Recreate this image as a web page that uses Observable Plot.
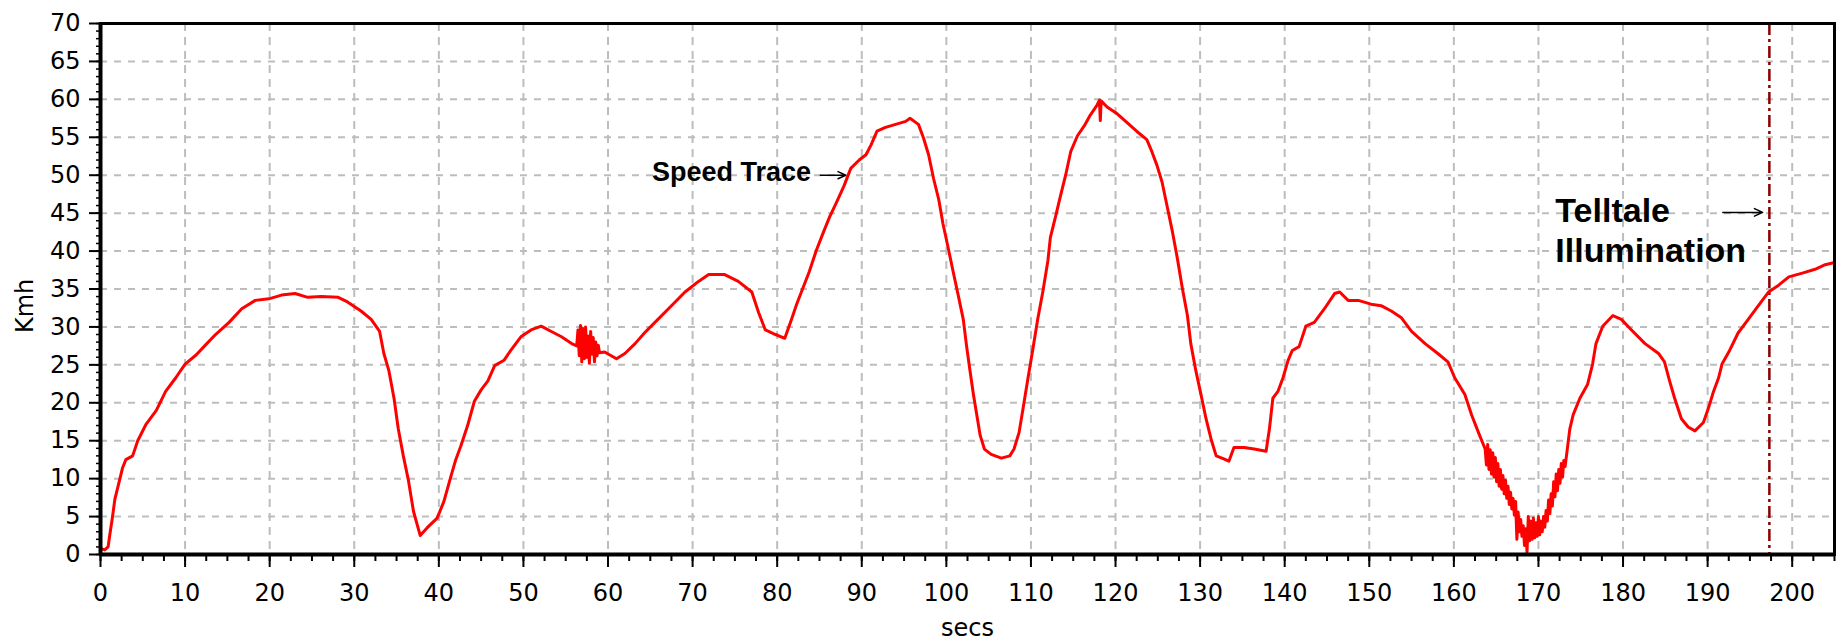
<!DOCTYPE html>
<html>
<head>
<meta charset="utf-8">
<script src="https://cdn.jsdelivr.net/npm/d3@7"></script>
<script src="https://cdn.jsdelivr.net/npm/@observablehq/plot@0.6"></script>
<style>
html, body { margin: 0; padding: 0; background: #ffffff; }
#chart svg { display: block; }
</style>
</head>
<body>
<div id="chart"></div>
<script>
// Speed trace: [secs, km/h]
const speedTrace = [
  [0, 0.8], [0.5, 0.6], [0.9, 1.0], [1.1, 2.6], [1.4, 4.8], [1.7, 7.3], [2.1, 9.1], [2.6, 11.4], [3.0, 12.5], [3.8, 13.0],
  [4.4, 15.0], [5.4, 17.2], [6.6, 19.0], [7.7, 21.5], [8.9, 23.3], [10.0, 25.1], [11.3, 26.3], [12.4, 27.6], [13.6, 29.0],
  [15.2, 30.6], [16.7, 32.4], [18.3, 33.5], [19.9, 33.7], [21.4, 34.2], [23.0, 34.4], [24.5, 33.9], [26.1, 34.0], [28.1, 33.9],
  [29.2, 33.3], [30.8, 32.1], [32.0, 31.0], [33.0, 29.4], [33.5, 26.5], [34.1, 24.2], [34.7, 20.6], [35.2, 16.6], [35.8, 13.0],
  [36.4, 9.8], [37.0, 5.7], [37.8, 2.5], [38.6, 3.5], [39.8, 4.8], [40.6, 7.0], [41.4, 10.2], [42.0, 12.5], [42.6, 14.3],
  [43.4, 17.0], [44.2, 20.2], [45.0, 21.7], [45.8, 22.9], [46.6, 24.9], [47.7, 25.6], [48.5, 26.9], [49.7, 28.7], [50.9, 29.6],
  [52.1, 30.1], [53.3, 29.4], [54.5, 28.7], [55.7, 27.8], [56.3, 27.5], [56.45, 29.6], [56.6, 26.2], [56.75, 30.2], [56.9, 25.4],
  [57.05, 29.8], [57.2, 25.8], [57.35, 30.0], [57.5, 26.0], [57.65, 28.8], [57.8, 25.2], [57.95, 29.4], [58.1, 26.4], [58.25, 28.6],
  [58.4, 25.4], [58.55, 28.0], [58.7, 26.2], [58.85, 27.6], [59.0, 26.6], [59.6, 26.7], [61.0, 25.8], [62.0, 26.5], [63.2, 27.8],
  [64.3, 29.2], [65.9, 31.0], [67.5, 32.8], [69.1, 34.6], [70.7, 36.0], [71.9, 36.9], [73.8, 36.9], [75.4, 36.0], [77.0, 34.6],
  [77.8, 31.9], [78.6, 29.6], [79.8, 29.0], [80.9, 28.5], [81.7, 31.0], [82.3, 33.0], [83.0, 35.0], [83.8, 37.3], [84.6, 40.0],
  [85.4, 42.3], [86.2, 44.5], [87.0, 46.4], [87.9, 48.6], [88.7, 50.9], [89.7, 52.0], [90.5, 52.7], [91.1, 54.0], [91.8, 55.8],
  [92.8, 56.3], [94.0, 56.7], [95.2, 57.1], [95.7, 57.5], [96.7, 56.7], [97.3, 54.9], [97.9, 52.7], [98.5, 49.5], [99.1, 46.8],
  [99.6, 43.6], [100.2, 40.5], [100.8, 37.3], [101.4, 34.2], [102.0, 31.0], [102.4, 27.4], [102.8, 24.2], [103.2, 21.1],
  [103.6, 18.4], [104.0, 15.7], [104.5, 13.9], [105.3, 13.2], [106.5, 12.7], [107.5, 13.0], [108.0, 13.9], [108.6, 16.1],
  [109.0, 18.8], [109.6, 22.9], [110.2, 26.9], [110.8, 31.0], [111.4, 34.6], [112.0, 38.7], [112.3, 41.8], [112.9, 44.5],
  [113.5, 47.3], [114.1, 50.0], [114.7, 53.1], [115.5, 55.2], [116.3, 56.5], [117.0, 57.9], [117.8, 59.2], [118.1, 59.9],
  [118.2, 57.2], [118.3, 59.8], [119.0, 59.0], [120.2, 58.1], [121.3, 57.0], [122.5, 55.8], [123.7, 54.7], [124.3, 53.1],
  [124.9, 51.3], [125.5, 49.1], [126.1, 45.9], [126.7, 42.7], [127.3, 39.1], [127.9, 35.1], [128.5, 31.5], [128.9, 27.8],
  [129.5, 24.2], [130.1, 21.1], [130.7, 17.9], [131.3, 15.2], [131.9, 13.0], [132.8, 12.6], [133.4, 12.3], [134.0, 14.1],
  [135.2, 14.1], [136.4, 13.9], [137.8, 13.6], [138.2, 16.6], [138.6, 20.6], [139.2, 21.5], [139.8, 23.3], [140.4, 25.6],
  [140.9, 26.9], [141.7, 27.4], [142.5, 30.1], [143.5, 30.6], [144.7, 32.4], [145.9, 34.4], [146.5, 34.6], [147.5, 33.5],
  [148.7, 33.5], [150.2, 33.0], [151.4, 32.8], [152.6, 32.1], [153.8, 31.2], [155.0, 29.4], [156.6, 27.8], [158.1, 26.5],
  [159.3, 25.4], [160.1, 23.3], [161.3, 21.1], [162.1, 18.4], [162.9, 16.1], [163.7, 13.9],
  [163.85, 11.8], [164.0, 14.5], [164.15, 11.2], [164.3, 13.8], [164.45, 10.6], [164.6, 13.4], [164.75, 10.2], [164.9, 12.8],
  [165.05, 9.6], [165.2, 12.0], [165.35, 9.0], [165.5, 11.2], [165.65, 8.6], [165.8, 10.4], [165.95, 8.0], [166.1, 9.8],
  [166.25, 7.4], [166.4, 9.0], [166.55, 6.6], [166.7, 8.2], [166.85, 6.0], [167.0, 7.4], [167.15, 5.2], [167.3, 7.0],
  [167.45, 2.0], [167.6, 5.6], [167.75, 3.0], [167.9, 4.6], [168.05, 2.4], [168.2, 3.8], [168.35, 1.2], [168.5, 3.4],
  [168.65, 0.3], [168.8, 5.0], [168.95, 1.8], [169.1, 4.4], [169.25, 2.0], [169.4, 4.8], [169.55, 2.2], [169.7, 4.2],
  [169.85, 2.4], [170.0, 5.0], [170.15, 2.6], [170.3, 4.4], [170.45, 3.0], [170.6, 5.0], [170.75, 3.6], [170.9, 5.8],
  [171.05, 4.4], [171.2, 7.2], [171.35, 5.4], [171.5, 8.0], [171.65, 6.4], [171.8, 9.6], [171.95, 7.6], [172.1, 10.6],
  [172.25, 8.4], [172.4, 11.2], [172.55, 9.4], [172.7, 12.0], [172.85, 10.2], [173.0, 12.4], [173.15, 11.6], [173.4, 13.8],
  [173.7, 16.5], [174.1, 18.4], [174.9, 20.6], [175.8, 22.4], [176.4, 25.1], [176.8, 27.8], [177.6, 30.1], [178.8, 31.5],
  [179.8, 31.0], [181.0, 29.6], [182.6, 27.8], [184.2, 26.5], [184.9, 25.4], [185.5, 22.9], [186.1, 20.6], [186.9, 17.9],
  [187.7, 16.8], [188.5, 16.3], [189.5, 17.4], [190.1, 19.3], [190.7, 21.5], [191.3, 23.3], [191.7, 25.1], [192.6, 26.9],
  [193.6, 29.2], [194.8, 31.0], [196.0, 32.8], [197.2, 34.6], [198.4, 35.5], [199.6, 36.6], [201.2, 37.1], [202.7, 37.6],
  [203.9, 38.2], [205.0, 38.5]
];

// Axis ticks
const xTickValues = [0, 10, 20, 30, 40, 50, 60, 70, 80, 90, 100, 110, 120, 130, 140, 150, 160, 170, 180, 190, 200];
const yTickValues = [0, 5, 10, 15, 20, 25, 30, 35, 40, 45, 50, 55, 60, 65, 70];
const xMinorTicks = d3.range(0, 205.01, 2.5);
const yMinorTicks = d3.range(0, 70.01, 1);

// Telltale illumination event (secs)
const telltaleSecs = [197.3];

// Annotations (data units)
const labelTexts = ["Speed Trace", "Telltale", "Illumination"];
const labelX = [65.2, 172.0, 172.0];
const labelY = [49.3, 43.8, 38.5];
const labelSize = [27, 34, 34];
const arrowX1 = [85.1, 191.8];
const arrowX2 = [88.1, 196.5];
const arrowY = [50.0, 45.1];

const data = speedTrace.map(([t, v]) => ({t, v}));
const labels = labelTexts.map((text, i) => ({text, x: labelX[i], y: labelY[i], size: labelSize[i]}));
const arrows = arrowX1.map((x1, i) => ({x1, x2: arrowX2[i], y: arrowY[i]}));

const gridStyle = {stroke: "#bdbdbd", strokeOpacity: 1, strokeWidth: 2};

const chart = Plot.plot({
  width: 1843,
  height: 641,
  marginTop: 23,
  marginRight: 9,
  marginBottom: 87,
  marginLeft: 100,
  style: {fontFamily: "'DejaVu Sans', sans-serif", fontSize: "24px", background: "#ffffff", color: "#000000", overflow: "visible"},
  x: {domain: [0, 205]},
  y: {domain: [0, 70]},
  marks: [
    Plot.gridX(xTickValues, {...gridStyle, strokeDasharray: "8,6"}),
    Plot.gridY(yTickValues, {...gridStyle, strokeDasharray: "7,7"}),
    Plot.axisX(xMinorTicks, {tickSize: 7, tickFormat: () => "", strokeWidth: 2, label: null}),
    Plot.axisX(xTickValues, {tickSize: 13, tickPadding: 16, strokeWidth: 2, fontSize: 24, label: null}),
    Plot.axisY(yMinorTicks, {tickSize: 4, tickFormat: () => "", strokeWidth: 1.5, label: null}),
    Plot.axisY(yTickValues, {tickSize: 11, tickPadding: 9, strokeWidth: 2, fontSize: 24, label: null}),
    Plot.ruleX(telltaleSecs, {x: d => d, stroke: "#8b0000", strokeWidth: 2.5, strokeDasharray: "12,4,3,4"}),
    Plot.line(data, {x: "t", y: "v", stroke: "#ff0000", strokeWidth: 3}),
    Plot.frame({stroke: "#000000", strokeWidth: 3}),
    Plot.ruleX([0], {stroke: "#000000", strokeWidth: 4}),
    Plot.ruleY([0], {stroke: "#000000", strokeWidth: 4}),
    Plot.text(labels, {x: "x", y: "y", text: "text", fontSize: d => d.size, textAnchor: "start", lineAnchor: "bottom",
      fontFamily: "'Liberation Sans', Arial, sans-serif", fontWeight: "bold", fill: "#000000"}),
    Plot.arrow(arrows, {x1: "x1", x2: "x2", y1: "y", y2: "y", stroke: "#000000", strokeWidth: 1.5, headLength: 9, headAngle: 50, inset: 0}),
    Plot.text(["Kmh"], {text: d => d, frameAnchor: "left", rotate: -90, dx: -75, dy: 44, fontSize: 24, fill: "#000000"}),
    Plot.text(["secs"], {text: d => d, frameAnchor: "bottom", lineAnchor: "bottom", dy: 81, fontSize: 24, fill: "#000000"})
  ]
});

document.getElementById("chart").appendChild(chart);
</script>
</body>
</html>
